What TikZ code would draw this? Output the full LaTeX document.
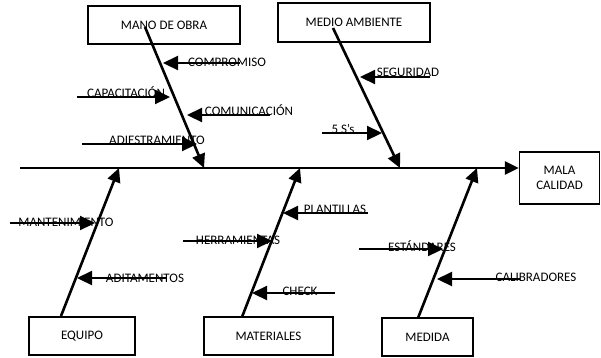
\documentclass[tikz,border=0pt]{standalone}
\usepackage{fontspec}
\setmainfont{Carlito}
\usetikzlibrary{arrows.meta}
\begin{document}
\begin{tikzpicture}[x=1pt,y=-1pt,
  box/.style={draw,line width=1.4pt,inner sep=0pt,align=center,font=\fontsize{13}{15}\selectfont},
  lbl/.style={inner sep=0pt,font=\fontsize{13}{15}\selectfont},
  bone/.style={line width=2.6pt,-{Triangle[length=14pt,width=13pt]}},
  sub/.style={line width=2.2pt,-{Triangle[length=15pt,width=14pt]}}]
\useasboundingbox (0,0) rectangle (601,357);
% boxes
\node[box,minimum width=152pt,minimum height=38pt] (mano) at (164,25) {MANO DE OBRA};
\node[box,minimum width=152pt,minimum height=39pt] (medio) at (354,22.5) {MEDIO AMBIENTE};
\node[box,minimum width=80pt,minimum height=52pt] (mala) at (559.5,178) {MALA\\CALIDAD};
\node[box,minimum width=106pt,minimum height=38pt] (equipo) at (82,336) {EQUIPO};
\node[box,minimum width=129pt,minimum height=38pt] (materiales) at (268.5,336) {MATERIALES};
\node[box,minimum width=91pt,minimum height=38pt] (medida) at (427.5,337) {MEDIDA};
% labels
\node[lbl] (tcompromiso) at (227,62) {COMPROMISO};
\node[lbl] (tcapacitacion) at (126,92) {CAPACITACIÓN};
\node[lbl] (tcomunicacion) at (249,110) {COMUNICACIÓN};
\node[lbl] (tadiestramiento) at (157,140) {ADIESTRAMIENTO};
\node[lbl] (tseguridad) at (408,72) {SEGURIDAD};
\node[lbl] (tcinco) at (343,129) {5 S’s};
\node[lbl] (tmantenimiento) at (66,222) {MANTENIMIENTO};
\node[lbl] (taditamentos) at (145,278) {ADITAMENTOS};
\node[lbl] (therramientas) at (238,240) {HERRAMIENTAS};
\node[lbl] (tplantillas) at (335,209) {PLANTILLAS};
\node[lbl] (tcheck) at (300,291) {CHECK};
\node[lbl] (testandares) at (422,246) {ESTÁNDARES};
\node[lbl] (tcalibradores) at (536,277) {CALIBRADORES};
% coordinates
\coordinate (s0) at (20,168);
\coordinate (s1) at (mala.west |- s0);
\coordinate (m0) at (145,27);  \coordinate (m1) at (204,168);
\coordinate (a0) at (333,28);  \coordinate (a1) at (400,168);
\coordinate (e0) at (61,316);  \coordinate (e1) at (119,168);
\coordinate (t0) at (242,317); \coordinate (t1) at (300,168);
\coordinate (d0) at (418,318); \coordinate (d1) at (477,168);
\coordinate (c1a) at (240,63);  \coordinate (c1b) at (163,63);
\coordinate (c2a) at (77,97);   \coordinate (c2b) at (170,97);
\coordinate (c3a) at (270,115); \coordinate (c3b) at (187,115);
\coordinate (c4a) at (82,144);  \coordinate (c4b) at (197,144);
\coordinate (c5a) at (430,77);  \coordinate (c5b) at (360,77);
\coordinate (c6a) at (322,133); \coordinate (c6b) at (382,133);
\coordinate (c7a) at (10,223);  \coordinate (c7b) at (95,223);
\coordinate (c8a) at (167,278); \coordinate (c8b) at (77,278);
\coordinate (c9a) at (183,241); \coordinate (c9b) at (272,241);
\coordinate (c10a) at (368,213); \coordinate (c10b) at (283,213);
\coordinate (c11a) at (335,293); \coordinate (c11b) at (252,293);
\coordinate (c12a) at (359,249); \coordinate (c12b) at (443,249);
\coordinate (c13a) at (520,279); \coordinate (c13b) at (437,279);
% spine and bones
\draw[bone] (s0) -- (s1);
\draw[bone] (m0) -- (m1);
\draw[bone] (a0) -- (a1);
\draw[bone] (e0) -- (e1);
\draw[bone] (t0) -- (t1);
\draw[bone] (d0) -- (d1);
% sub causes
\draw[sub] (c1a) -- (c1b);
\draw[sub] (c2a) -- (c2b);
\draw[sub] (c3a) -- (c3b);
\draw[sub] (c4a) -- (c4b);
\draw[sub] (c5a) -- (c5b);
\draw[sub] (c6a) -- (c6b);
\draw[sub] (c7a) -- (c7b);
\draw[sub] (c8a) -- (c8b);
\draw[sub] (c9a) -- (c9b);
\draw[sub] (c10a) -- (c10b);
\draw[sub] (c11a) -- (c11b);
\draw[sub] (c12a) -- (c12b);
\draw[sub] (c13a) -- (c13b);
\end{tikzpicture}
\end{document}
